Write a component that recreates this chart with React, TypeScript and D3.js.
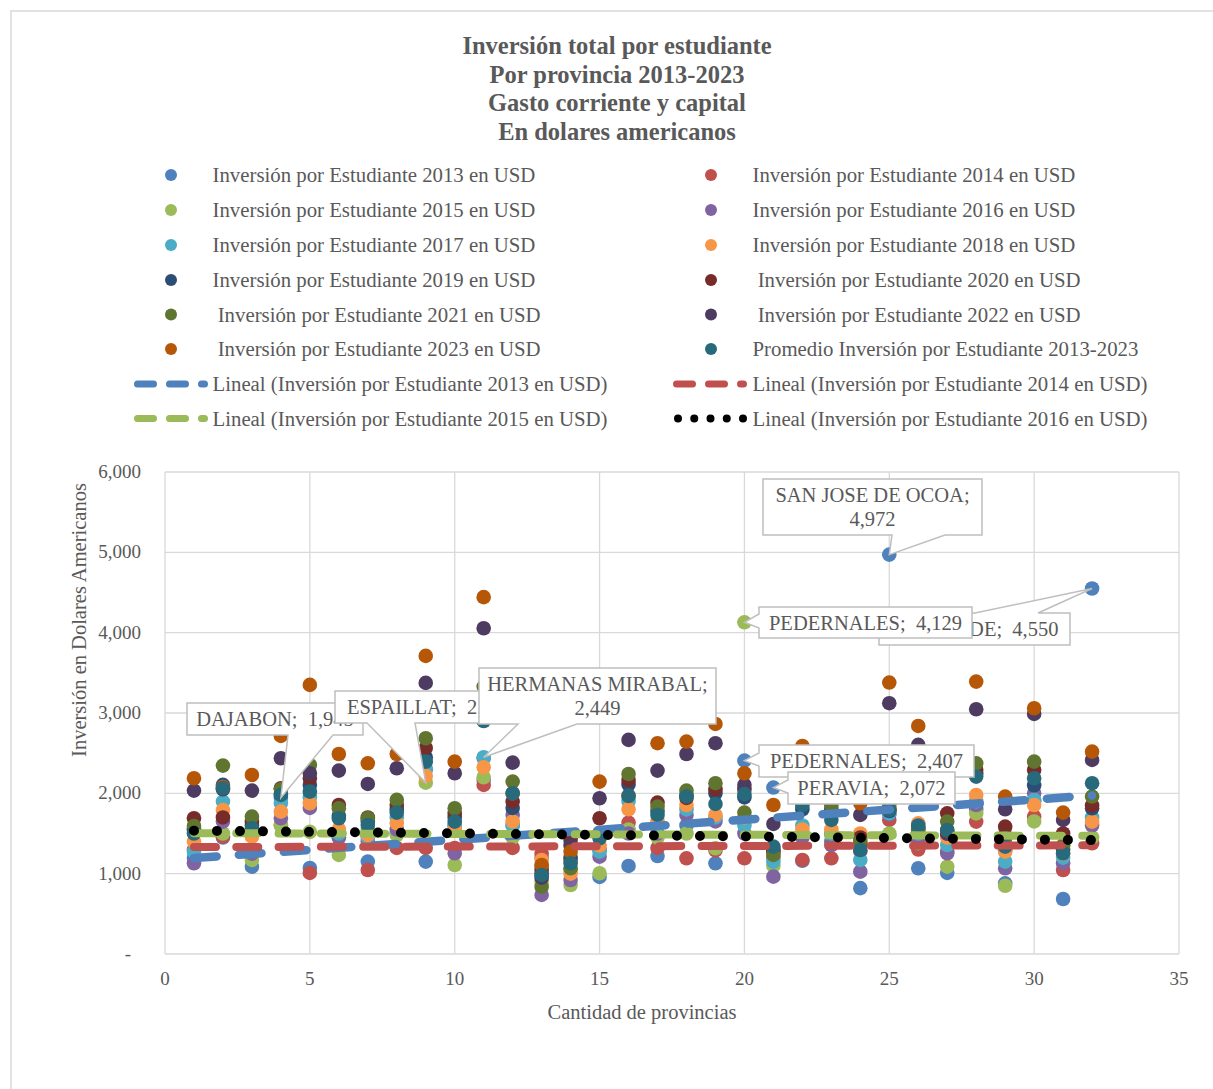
import React from 'react';
import * as d3 from 'd3';

const provinces = [
  'AZUA', 'BAHORUCO', 'BARAHONA', 'DAJABON', 'DISTRITO NACIONAL', 'DUARTE', 'EL SEIBO', 'ELIAS PIÑA',
  'ESPAILLAT', 'HATO MAYOR', 'HERMANAS MIRABAL', 'INDEPENDENCIA', 'LA ALTAGRACIA', 'LA ROMANA', 'LA VEGA',
  'MARIA TRINIDAD SANCHEZ', 'MONSEÑOR NOUEL', 'MONTE CRISTI', 'MONTE PLATA', 'PEDERNALES', 'PERAVIA',
  'PUERTO PLATA', 'SAMANA', 'SAN CRISTOBAL', 'SAN JOSE DE OCOA', 'SAN JUAN', 'SAN PEDRO DE MACORIS',
  'SANCHEZ RAMIREZ', 'SANTIAGO', 'SANTIAGO RODRIGUEZ', 'SANTO DOMINGO', 'VALVERDE'
];

const inv2013 = [1195, 1450, 1087, 1945, 1071, 1450, 1150, 1500, 1150, 1600, 2167, 1600, 1200, 1400, 960, 1096, 1220, 1600, 1129, 2407, 2072, 1160, 1400, 820, 4972, 1067, 1010, 1800, 880, 1900, 685, 4550];
const inv2014 = [1300, 1461, 1300, 1606, 1009, 1330, 1046, 1320, 1320, 1320, 2105, 1320, 1250, 1171, 1300, 1635, 1320, 1191, 1290, 1191, 1200, 1171, 1191, 1280, 1669, 1300, 1280, 1648, 1290, 1710, 1046, 1378];
const inv2015 = [1550, 1500, 1171, 1600, 1520, 1233, 1550, 1480, 2133, 1108, 2200, 1450, 900, 859, 1005, 1550, 1450, 1500, 1316, 4129, 1100, 1450, 1480, 1350, 1500, 1380, 1087, 1750, 850, 1650, 1350, 1450];
const inv2016 = [1129, 1648, 1250, 1690, 1818, 1450, 1400, 1550, 2300, 1254, 2440, 1731, 735, 921, 1212, 1500, 1500, 1731, 1650, 1500, 963, 1450, 1357, 1025, 1740, 1400, 1254, 1855, 1067, 2001, 1129, 1600];
const inv2017 = [1274, 1897, 1500, 1876, 1950, 1500, 1450, 1700, 2300, 1600, 2449, 1600, 1100, 1050, 1274, 1900, 1600, 1800, 1700, 1600, 1150, 1600, 1500, 1171, 1750, 1500, 1357, 1900, 1150, 1918, 1200, 1700];
const inv2018 = [1399, 1793, 1461, 1772, 1876, 1550, 1482, 1627, 2217, 1550, 2325, 1650, 1171, 1000, 1350, 1802, 1650, 1855, 1731, 1700, 1250, 1550, 1550, 1500, 1800, 1627, 1450, 1980, 1274, 1855, 1250, 1648];
const inv2019 = [1550, 2105, 1600, 1992, 2105, 1720, 1650, 1800, 2450, 1700, 3000, 1818, 1000, 1200, 1500, 2110, 1780, 1980, 2000, 1950, 1300, 1800, 1800, 1380, 1780, 1550, 1500, 2250, 1480, 2100, 1300, 1814];
const inv2020 = [1690, 1700, 1650, 2063, 2188, 1855, 1700, 1855, 2565, 1750, 3100, 1897, 1050, 1440, 1690, 2167, 1885, 1943, 2050, 2050, 1280, 1900, 1960, 1450, 1800, 1580, 1751, 2290, 1585, 2291, 1500, 1850];
const inv2021 = [1594, 2345, 1710, 2050, 2353, 1814, 1690, 1918, 2686, 1814, 3329, 2146, 838, 1067, 1500, 2241, 1835, 2034, 2126, 1760, 1233, 1918, 1850, 1400, 1850, 1550, 1648, 2374, 1440, 2395, 1350, 1960];
const inv2022 = [2034, 2050, 2034, 2437, 2250, 2283, 2117, 2312, 3375, 2250, 4055, 2382, 950, 1350, 1939, 2665, 2283, 2490, 2624, 2105, 1619, 2560, 2000, 1731, 3122, 2603, 1500, 3047, 1802, 2989, 1669, 2416];
const inv2023 = [2188, 2080, 2229, 2715, 3350, 2490, 2374, 2490, 3711, 2395, 4442, 2000, 1108, 1274, 2146, 1970, 2624, 2644, 2864, 2250, 1855, 2590, 2080, 1876, 3379, 2839, 1540, 3391, 1960, 3059, 1760, 2519];
const promedio = [1500, 2063, 1565, 1980, 2021, 1690, 1606, 1760, 2395, 1648, 2900, 2001, 984, 1129, 1440, 1968, 1731, 1960, 1868, 1992, 1336, 1850, 1669, 1295, 1790, 1600, 1544, 2208, 1336, 2188, 1254, 2126];

const seriesNames = [
  'Inversión por Estudiante 2013 en USD', 'Inversión por Estudiante 2014 en USD',
  'Inversión por Estudiante 2015 en USD', 'Inversión por Estudiante 2016 en USD',
  'Inversión por Estudiante 2017 en USD', 'Inversión por Estudiante 2018 en USD',
  'Inversión por Estudiante 2019 en USD', ' Inversión por Estudiante 2020 en USD',
  ' Inversión por Estudiante 2021 en USD', ' Inversión por Estudiante 2022 en USD',
  ' Inversión por Estudiante 2023 en USD', 'Promedio Inversión por Estudiante 2013-2023'
];
const seriesValues = [inv2013, inv2014, inv2015, inv2016, inv2017, inv2018, inv2019, inv2020, inv2021, inv2022, inv2023, promedio];
const seriesColors = ['#4F81BD', '#C0504D', '#9BBB59', '#8064A2', '#4BACC6', '#F79646', '#2C4D75', '#772C2A', '#5F7530', '#4D3B62', '#B65708', '#276A7C'];

const trendNames = [
  'Lineal (Inversión por Estudiante 2013 en USD)', 'Lineal (Inversión por Estudiante 2014 en USD)',
  'Lineal (Inversión por Estudiante 2015 en USD)', 'Lineal (Inversión por Estudiante 2016 en USD)'
];
const trendSeries = [0, 1, 2, 3];

const titleLines = ['Inversión total por estudiante', 'Por provincia 2013-2023', 'Gasto corriente y capital', 'En dolares americanos'];
const xTicks = [0, 5, 10, 15, 20, 25, 30, 35];
const yTicks = [0, 1000, 2000, 3000, 4000, 5000, 6000];

// labelled points: province index (1-based), series index
const labelPoints = [
  { prov: 4, series: 0 },
  { prov: 9, series: 2 },
  { prov: 11, series: 4 },
  { prov: 32, series: 0 },
  { prov: 20, series: 2 },
  { prov: 25, series: 0 },
  { prov: 20, series: 0 },
  { prov: 21, series: 0 },
];

// layout of callouts (box and wedge base), same order as labelPoints
const calloutLayout = [
  { bx: 187, by: 703, bw: 176, bh: 32, side: 'bottom', w1: 288, w2: 333, lines: 1 },
  { bx: 335, by: 691, bw: 190, bh: 32, side: 'bottom', w1: 367, w2: 415, lines: 1 },
  { bx: 479, by: 668, bw: 237, bh: 56, side: 'bottom', w1: 518, w2: 577, lines: 2 },
  { bx: 879, by: 613, bw: 191, bh: 32, side: 'top', w1: 975, w2: 1038, lines: 1 },
  { bx: 759, by: 607, bw: 213, bh: 31, side: 'left', w1: 614, w2: 628, lines: 1 },
  { bx: 763, by: 479, bw: 219, bh: 56, side: 'bottom', w1: 892, w2: 945, lines: 2 },
  { bx: 759, by: 745, bw: 215, bh: 32, side: 'left', w1: 753, w2: 766, lines: 1 },
  { bx: 788, by: 772, bw: 167, bh: 32, side: 'left', w1: 780, w2: 793, lines: 1 },
];

const FONT = '"Liberation Serif", "Times New Roman", serif';
const TXT = '#595959';

function linReg(vals: number[]) {
  const xs = vals.map((_, i) => i + 1);
  const mx = d3.mean(xs) as number;
  const my = d3.mean(vals) as number;
  let sxy = 0, sxx = 0;
  xs.forEach((xv, i) => { sxy += (xv - mx) * (vals[i] - my); sxx += (xv - mx) * (xv - mx); });
  const b = sxy / sxx;
  const a = my - b * mx;
  return (xv: number) => a + b * xv;
}

function calloutPath(c: any, px: number, py: number) {
  const x0 = c.bx, y0 = c.by, x1 = c.bx + c.bw, y1 = c.by + c.bh;
  if (c.side === 'bottom') {
    return `M${x0},${y0}H${x1}V${y1}H${c.w2}L${px},${py}L${c.w1},${y1}H${x0}Z`;
  }
  if (c.side === 'top') {
    return `M${x0},${y0}H${c.w1}L${px},${py}L${c.w2},${y0}H${x1}V${y1}H${x0}Z`;
  }
  return `M${x0},${y0}H${x1}V${y1}H${x0}V${c.w2}L${px},${py}L${x0},${c.w1}Z`;
}

export default function App() {
  const x = d3.scaleLinear().domain([0, 35]).range([165, 1179]);
  const y = d3.scaleLinear().domain([0, 6000]).range([954, 472]);
  const fmt = d3.format(',');

  const trendStyles = [
    { color: '#4F81BD', width: 8.5, dash: '22.7 22.3', legDash: '16 16' },
    { color: '#C0504D', width: 8, dash: '22 20.3', legDash: '16 16' },
    { color: '#9BBB59', width: 8, dash: '22 20.3', legDash: '16 16' },
    { color: '#000000', width: 10, dash: '0 23', legDash: '0 16.25' },
  ];

  const legendRowY = [175, 210, 245, 280, 314.5, 349, 384, 418.5];
  const LFS = 20.8;

  return (
    <svg width={1213} height={1089} style={{ position: 'absolute', left: 0, top: 0, background: '#fff' }} fontFamily={FONT}>
      <rect x={0} y={0} width={1213} height={1089} fill="#fff" />
      <rect x={11} y={11} width={1300} height={1200} fill="none" stroke="#D9D9D9" strokeWidth={1.5} />

      {titleLines.map((t, i) => (
        <text key={i} x={617} y={54 + i * 28.5} textAnchor="middle" fontSize={24.5} fontWeight="bold" fill={TXT}>{t}</text>
      ))}

      {seriesNames.map((n, i) => {
        const col = i % 2, row = Math.floor(i / 2);
        const mx = col === 0 ? 171 : 711;
        const tx = col === 0 ? 212.5 : 752.5;
        const cy = legendRowY[row];
        return (
          <g key={n}>
            <circle cx={mx} cy={cy} r={6} fill={seriesColors[i]} />
            <text x={tx} y={cy + 7} fontSize={LFS} fill={TXT} style={{ whiteSpace: 'pre' }}>{n}</text>
          </g>
        );
      })}
      {trendNames.map((n, i) => {
        const col = i % 2, row = 6 + Math.floor(i / 2);
        const cy = legendRowY[row];
        const st = trendStyles[i];
        const lx0 = col === 0 ? 134 : 673;
        const tx = col === 0 ? 212.5 : 752.5;
        const isDot = i === 3;
        return (
          <g key={n}>
            <line x1={isDot ? lx0 + 5 : lx0 + 3.5} x2={isDot ? lx0 + 70.5 : lx0 + 70.5} y1={cy} y2={cy}
              stroke={st.color} strokeWidth={isDot ? 8 : 7} strokeLinecap="round" strokeDasharray={st.legDash} />
            <text x={tx} y={cy + 7} fontSize={LFS} fill={TXT}>{n}</text>
          </g>
        );
      })}

      {yTicks.map(t => (
        <line key={'gy' + t} x1={165} x2={1179} y1={y(t)} y2={y(t)} stroke="#D9D9D9" strokeWidth={1.3} />
      ))}
      {xTicks.map(t => (
        <line key={'gx' + t} x1={x(t)} x2={x(t)} y1={472} y2={954} stroke="#D9D9D9" strokeWidth={1.3} />
      ))}

      {yTicks.map(t => (
        <text key={'ty' + t} x={t === 0 ? 131 : 141} y={y(t) + 6} textAnchor="end" fontSize={19} fill={TXT}>{t === 0 ? '-' : fmt(t)}</text>
      ))}
      {xTicks.map(t => (
        <text key={'tx' + t} x={x(t)} y={985} textAnchor="middle" fontSize={19} fill={TXT}>{t}</text>
      ))}

      <text x={642} y={1019} textAnchor="middle" fontSize={20.5} fill={TXT}>Cantidad de provincias</text>
      <text transform="translate(86,620) rotate(-90)" textAnchor="middle" fontSize={20.5} fill={TXT}>Inversión en Dolares Americanos</text>

      {seriesValues.map((vals, si) => (
        <g key={'s' + si}>
          {vals.map((v, i) => (
            <circle key={i} cx={x(i + 1)} cy={y(v)} r={7.3} fill={seriesColors[si]} />
          ))}
        </g>
      ))}

      {trendSeries.map((si, k) => {
        const f = linReg(seriesValues[si]);
        const st = trendStyles[k];
        const n = seriesValues[si].length;
        return (
          <line key={'tr' + k} x1={x(1)} y1={y(f(1))} x2={x(n)} y2={y(f(n))}
            stroke={st.color} strokeWidth={st.width} strokeLinecap="round" strokeDasharray={st.dash} />
        );
      })}

      {labelPoints.map((lp, k) => {
        const c = calloutLayout[k];
        const v = seriesValues[lp.series][lp.prov - 1];
        const px = x(lp.prov), py = y(v);
        const name = provinces[lp.prov - 1];
        const cx = c.bx + c.bw / 2;
        return (
          <g key={'lb' + k}>
            <path d={calloutPath(c, px, py)} fill="#fff" stroke="#BFBFBF" strokeWidth={1.5} />
            {c.lines === 2 ? (
              <>
                <text x={cx} y={c.by + 23} textAnchor="middle" fontSize={20.5} fill={TXT}>{name + ';'}</text>
                <text x={cx} y={c.by + 47} textAnchor="middle" fontSize={20.5} fill={TXT}>{fmt(v)}</text>
              </>
            ) : (
              <text x={cx} y={c.by + 23} textAnchor="middle" fontSize={20.5} fill={TXT} style={{ whiteSpace: 'pre' }}>{name + ';  ' + fmt(v)}</text>
            )}
          </g>
        );
      })}
    </svg>
  );
}
